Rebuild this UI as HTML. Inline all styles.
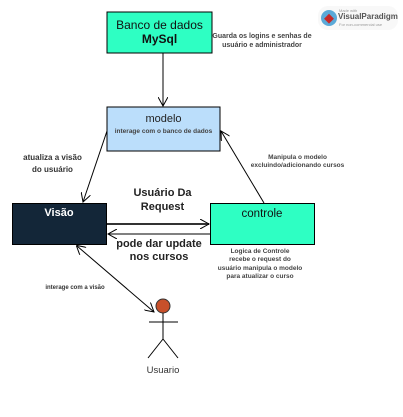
<!DOCTYPE html>
<html><head><style>
body{margin:0;width:403px;height:417px;background:#fff;position:relative;overflow:hidden;font-family:"Liberation Sans","DejaVu Sans",sans-serif}
.t{position:absolute;text-align:center;white-space:nowrap}
</style></head><body>
<svg width="403" height="417" style="position:absolute;left:0;top:0">
<defs>
<marker id="a" markerWidth="10" markerHeight="10" refX="9" refY="5" orient="auto" markerUnits="userSpaceOnUse"><path d="M0,0 L9,5 L0,10" fill="none" stroke="#000" stroke-width="1"/></marker>
<marker id="s" markerWidth="10" markerHeight="10" refX="1" refY="5" orient="auto" markerUnits="userSpaceOnUse"><path d="M9,0 L0,5 L9,10" fill="none" stroke="#000" stroke-width="1"/></marker>
</defs>
<rect x="107" y="12" width="105" height="41" fill="#2effc3" stroke="#000"/>
<rect x="107" y="107" width="113" height="44" fill="#bbdefb" stroke="#000"/>
<rect x="12.5" y="203.5" width="94" height="41" fill="#132638" stroke="#000"/>
<rect x="210.5" y="203.5" width="104" height="41" fill="#2effc3" stroke="#000"/>
<line x1="163" y1="53" x2="163" y2="106" stroke="#000" marker-end="url(#a)"/>
<line x1="107" y1="131" x2="83" y2="202" stroke="#000" marker-end="url(#a)"/>
<line x1="264" y1="203" x2="221" y2="131" stroke="#000" marker-end="url(#a)"/>
<line x1="107" y1="224" x2="209" y2="224" stroke="#333" stroke-width="2" marker-end="url(#a)"/>
<line x1="210" y1="234" x2="108" y2="234" stroke="#000" marker-end="url(#a)"/>
<line x1="77" y1="246" x2="154" y2="312" stroke="#000" marker-start="url(#s)" marker-end="url(#a)"/>
<circle cx="163" cy="306" r="7" fill="#c8502a" stroke="#333"/>
<line x1="163" y1="313" x2="163" y2="339" stroke="#000"/>
<line x1="149" y1="322" x2="178" y2="322" stroke="#000"/>
<line x1="163" y1="339" x2="148" y2="358" stroke="#000"/>
<line x1="163" y1="339" x2="178" y2="358" stroke="#000"/>
<rect x="318" y="6" width="80" height="24" rx="10" fill="#f8f8f8"/>
<circle cx="329" cy="18" r="8" fill="#5aa9d8"/>
<rect x="326" y="15" width="7" height="7" fill="#c62828" transform="rotate(45 329 18)"/>
</svg>
<div class="t" style="left:339px;top:8px;font-size:4px;color:#999">Made with</div>
<div class="t" style="left:338px;top:12px;font-size:8px;font-weight:bold;color:#555">VisualParadigm</div>
<div class="t" style="left:339px;top:22px;font-size:4px;color:#999">For non-commercial use</div>
<div class="t" style="left:107px;width:105px;top:18px;font-size:12px;line-height:14px;color:#111">Banco de dados<br><b>MySql</b></div>
<div class="t" style="left:210px;width:104px;top:32px;font-size:7px;line-height:9px;font-weight:bold;color:#444">Guarda os logins e senhas de<br>usuário e administrador</div>
<div class="t" style="left:107px;width:113px;top:113px;font-size:11px;color:#222">modelo</div>
<div class="t" style="left:107px;width:113px;top:128px;font-size:6.5px;font-weight:bold;color:#444">interage com o banco de dados</div>
<div class="t" style="left:10px;width:85px;top:152px;font-size:8px;line-height:12px;font-weight:bold;color:#333">atualiza a visão<br>do usuário</div>
<div class="t" style="left:240px;width:115px;top:154px;font-size:6.5px;line-height:8px;font-weight:bold;color:#444">Manipula o modelo<br>excluindo/adicionando cursos</div>
<div class="t" style="left:120px;width:85px;top:186px;font-size:11px;line-height:14px;font-weight:bold;color:#222">Usuário Da<br>Request</div>
<div class="t" style="left:12px;width:94px;top:207px;font-size:11px;font-weight:bold;color:#fff">Visão</div>
<div class="t" style="left:210px;width:104px;top:208px;font-size:11.5px;color:#111">controle</div>
<div class="t" style="left:108px;width:102px;top:238px;font-size:11px;line-height:13px;font-weight:bold;color:#222">pode dar update<br>nos cursos</div>
<div class="t" style="left:205px;width:110px;top:248px;font-size:6.5px;line-height:8.3px;font-weight:bold;color:#444">Logica de Controle<br>recebe o request do<br>usuário manipula o modelo<br>para atualizar o curso</div>
<div class="t" style="left:38px;width:74px;top:285px;font-size:6px;font-weight:bold;color:#333">interage com a visão</div>
<div class="t" style="left:133px;width:60px;top:365px;font-size:9.5px;color:#333">Usuario</div>
</body></html>
